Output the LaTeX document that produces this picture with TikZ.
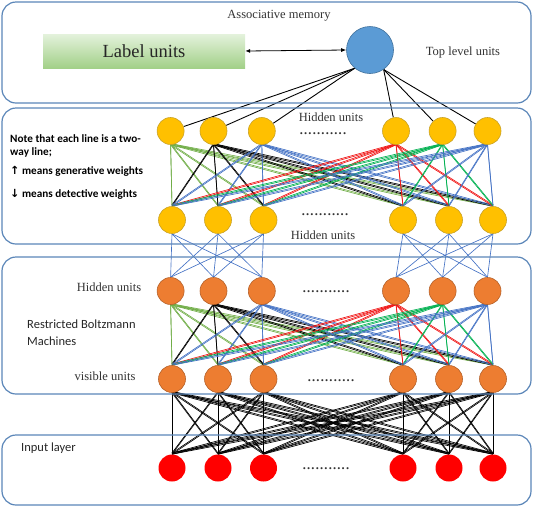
\documentclass[tikz,border=0pt]{standalone}
\usepackage{fontspec}
\setmainfont{Liberation Serif}
\newfontfamily\calfont{Carlito}
\newfontfamily\arrowfont{DejaVu Sans}
\usepackage{xcolor}
\definecolor{boxblue}{HTML}{5B86B8}
\definecolor{topblue}{HTML}{5B9BD5}
\definecolor{topbluedk}{HTML}{41719C}
\definecolor{unityellow}{HTML}{FFC000}
\definecolor{unityellowdk}{HTML}{C9A227}
\definecolor{unitorange}{HTML}{ED7D31}
\definecolor{unitorangedk}{HTML}{B5612A}
\definecolor{unitred}{HTML}{FF0000}
\definecolor{wlgreen}{HTML}{70AD47}
\definecolor{wdgreen}{HTML}{00B050}
\definecolor{wblue}{HTML}{4472C4}
\definecolor{wred}{HTML}{F01515}
\definecolor{labtop}{HTML}{E4F2DC}
\definecolor{labbot}{HTML}{A2D088}
\usepackage{tikz}
\usetikzlibrary{arrows.meta}
\pgfdeclarelayer{bg}
\pgfsetlayers{bg,main}

\newcommand{\udots}{\textbf{.\kern1.2pt.\kern1.2pt.\kern1.2pt.\kern1.2pt.\kern1.2pt.\kern1.2pt.\kern1.2pt.\kern1.2pt.\kern1.2pt.\kern1.2pt.}}

\begin{document}
\begin{tikzpicture}[x=1pt, y=-1pt,
  layerbox/.style={draw=boxblue, line width=1.2pt, rounded corners=14pt},
  unit/.style={circle, inner sep=0pt, minimum size=27pt, line width=0.6pt},
  yunit/.style={unit, fill=unityellow, draw=unityellowdk},
  ounit/.style={unit, fill=unitorange, draw=unitorangedk},
  runit/.style={unit, fill=unitred},
  wire/.style={line width=0.65pt},
  lbl/.style={font=\fontsize{12.5}{14}\selectfont, text=black!80, inner sep=0pt},
  sanslbl/.style={font=\calfont\fontsize{12.5}{14}\selectfont, text=black!85, inner sep=0pt, anchor=west},
  notelbl/.style={font=\calfont\bfseries\fontsize{11.2}{13}\selectfont, inner sep=0pt, anchor=west}]
  \useasboundingbox (0,0) rectangle (533,507);

  % Layer boxes
  \draw[layerbox] (2,2) rectangle (531,103);
  \draw[layerbox] (2,108) rectangle (531,244);
  \draw[layerbox] (2,257) rectangle (531,394);
  \draw[layerbox] (2,435) rectangle (531,505);

  % Associative memory
  \node[lbl] (assoc) at (279,16) {Associative memory};
  \node[draw=none, top color=labtop, bottom color=labbot, minimum width=202pt,
        minimum height=34pt, inner sep=0pt, font=\fontsize{18.5}{20}\selectfont,
        text=black!85] (label) at (144,51) {Label units};
  \node[circle, fill=topblue, draw=topbluedk, line width=0.6pt, minimum size=47pt,
        inner sep=0pt] (top) at (370,50) {};
  \node[lbl] (toplbl) at (463,52) {Top level units};
  \draw[{Latex[length=5pt,width=4pt]}-{Latex[length=5pt,width=4pt]}, line width=0.8pt]
    (label.east) -- (top.west);

  % Units
  \foreach \x [count=\i] in {170.6,213.5,261.8,396,442.6,487.5} {
    \node[yunit] (ya\i) at (\x,131) {};
    \node[ounit] (oa\i) at (\x,291) {};
  }
  \foreach \x [count=\i] in {172,218,263.5,403,449,493} {
    \node[yunit] (yb\i) at (\x,220) {};
    \node[ounit] (ob\i) at (\x,379) {};
    \node[runit] (in\i) at (\x,468) {};
  }

  % Wires
  \begin{pgfonlayer}{bg}
    \foreach \i in {1,2,3}
      \draw[line width=0.9pt] (top.230) -- (ya\i);
    \foreach \i in {4,5,6}
      \draw[line width=0.9pt] (top.305) -- (ya\i);
    \foreach \i/\c in {1/wlgreen,2/black,3/wblue,4/wred,5/wdgreen,6/wblue}
      \foreach \j in {1,...,6} {
        \draw[wire,\c] (ya\i.south) -- (yb\j.north);
        \draw[wire,\c] ([yshift=1.2pt]ya\i.south) -- ([yshift=1.2pt]yb\j.north);
        \draw[wire,\c] (oa\i.south) -- (ob\j.north);
        \draw[wire,\c] ([yshift=1.2pt]oa\i.south) -- ([yshift=1.2pt]ob\j.north);
      }
    \foreach \i in {1,2,3}
      \foreach \j in {1,2,3}
        \draw[wire,wblue] (yb\i.south) -- (oa\j.north);
    \foreach \i in {4,5,6}
      \foreach \j in {4,5,6}
        \draw[wire,wblue] (yb\i.south) -- (oa\j.north);
    \foreach \i in {1,...,6}
      \foreach \j in {1,...,6} {
        \draw[wire] (ob\i.south) -- (in\j.north);
        \draw[wire] ([yshift=1.2pt]ob\i.south) -- ([yshift=1.2pt]in\j.north);
      }
  \end{pgfonlayer}

  % Hidden units (top)
  \node[lbl] (hida) at (331,117) {Hidden units};
  \node[lbl] (dotsa) at (323,134) {\udots};
  \node[lbl] (dotsb) at (325,215) {\udots};
  \node[lbl] (hidb) at (323,235) {Hidden units};

  % Note
  \node[notelbl] (note1) at (10,139) {Note that each line is a two-};
  \node[notelbl] (note2) at (10,152) {way line;};
  \node[notelbl] (note3) at (10,171) {{\arrowfont ↑} means generative weights};
  \node[notelbl] (note4) at (10,194) {{\arrowfont ↓} means detective weights};

  % Restricted Boltzmann Machines
  \node[lbl] (hidc) at (109,287) {Hidden units};
  \node[lbl] (dotsc) at (326,292) {\udots};
  \node[sanslbl] (rbm1) at (27,324) {Restricted Boltzmann};
  \node[sanslbl] (rbm2) at (27,341) {Machines};
  \node[lbl] (vis) at (105,376) {visible units};
  \node[lbl] (dotsd) at (331,381) {\udots};

  % Input layer
  \node[sanslbl] (inlbl) at (21,448) {Input layer};
  \node[lbl] (dotse) at (326,469) {\udots};
\end{tikzpicture}
\end{document}
